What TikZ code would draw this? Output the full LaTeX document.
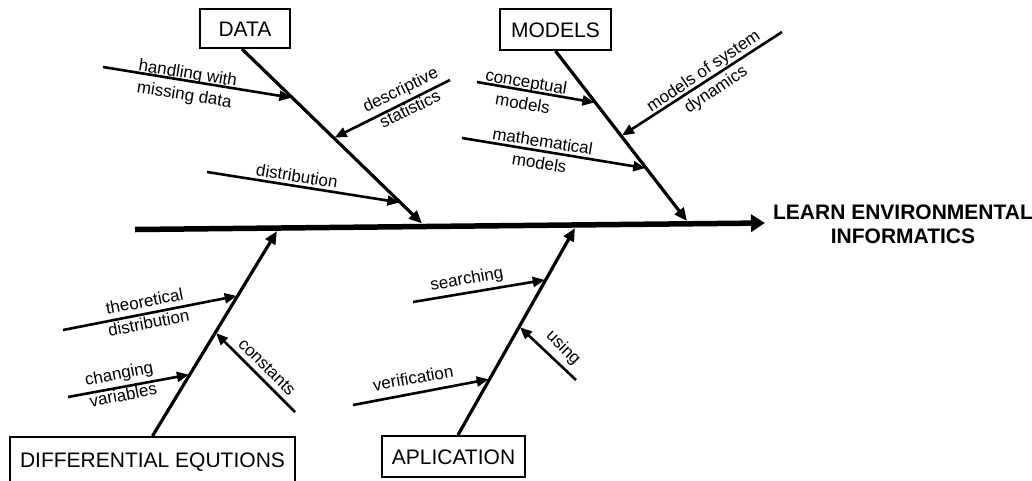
\documentclass[tikz,border=0pt]{standalone}
\usepackage{fontspec}
\setmainfont{Liberation Sans}
\usetikzlibrary{arrows.meta,calc}
\begin{document}
\begin{tikzpicture}[x=1pt,y=-1pt,
  box/.style={draw,line width=2pt,inner sep=0pt,font=\fontsize{21}{24}\selectfont,text height=15pt,text depth=0pt},
  lbl/.style={font=\fontsize{17}{22}\selectfont,align=center,inner sep=0pt},
  branch/.style={line width=3.2pt,-{Triangle[length=13pt,width=11pt]}},
  sub/.style={line width=2.6pt,-{Triangle[length=12pt,width=10pt]}},
  spine/.style={line width=5.5pt,-{Triangle[length=14pt,width=17pt]}}]
\useasboundingbox (0,0) rectangle (1032,480);
% boxes
\node[box,minimum width=90pt,minimum height=39pt] (data) at (245,28.5) {DATA};
\node[box,minimum width=111pt,minimum height=41pt] (models) at (555.5,29.5) {MODELS};
\node[box,minimum width=285pt,minimum height=45pt] (diff) at (152.5,459.5) {DIFFERENTIAL EQUTIONS};
\node[box,minimum width=143pt,minimum height=41pt] (app) at (453.5,456.5) {APLICATION};
\node[font=\bfseries\fontsize{21}{24}\selectfont,align=center,inner sep=0pt] (title) at (903,224) {LEARN ENVIRONMENTAL\\INFORMATICS};
% spine
\coordinate (sp0) at (135,229.5);
\coordinate (sp1) at (765,223);
\draw[spine] (sp0) -- (sp1);
% branch ends
\coordinate (dE) at (422,223.5);
\coordinate (mE) at (687,221);
\coordinate (fE) at (277,231);
\coordinate (aE) at (575,228);
\coordinate (dS) at ([xshift=-3pt]data.south);
\coordinate (mS) at (models.south);
\coordinate (fS) at (diff.north);
\coordinate (aS) at ([xshift=4.5pt]app.north);
\draw[branch] (dS) -- (dE);
\draw[branch] (mS) -- (mE);
\draw[branch] (fS) -- (fE);
\draw[branch] (aS) -- (aE);
% sub-branch free ends
\coordinate (h0) at (103,67);
\coordinate (ds0) at (450,80);
\coordinate (di0) at (207,172);
\coordinate (c0) at (477,82);
\coordinate (sy0) at (782,32);
\coordinate (ma0) at (462,138);
\coordinate (th0) at (63,330);
\coordinate (ch0) at (68,397);
\coordinate (co0) at (295,412);
\coordinate (se0) at (413,302);
\coordinate (us0) at (576,380);
\coordinate (ve0) at (353,405);
% sub-branch tips on branches
\coordinate (h1) at ($(dS)!0.28!(dE)$);
\coordinate (ds1) at ($(dS)!0.51!(dE)$);
\coordinate (di1) at ($(dS)!0.88!(dE)$);
\coordinate (c1) at ($(mS)!0.304!(mE)$);
\coordinate (sy1) at ($(mS)!0.5!(mE)$);
\coordinate (ma1) at ($(mS)!0.69!(mE)$);
\coordinate (th1) at ($(fS)!0.684!(fE)$);
\coordinate (ch1) at ($(fS)!0.30!(fE)$);
\coordinate (co1) at ($(fS)!0.505!(fE)$);
\coordinate (se1) at ($(aS)!0.75!(aE)$);
\coordinate (us1) at ($(aS)!0.524!(aE)$);
\coordinate (ve1) at ($(aS)!0.27!(aE)$);
\foreach \a in {h,ds,di,c,sy,ma,th,ch,co,se,us,ve}{
  \draw[sub,shorten >=1pt] (\a0) -- (\a1);
}
% labels
\node[lbl,rotate=-9] (lh) at (186,85) {handling with\\missing data};
\node[lbl,rotate=26] (lds) at (405,99) {descriptive\\statistics};
\node[lbl,rotate=-9] (ldi) at (297,176) {distribution};
\node[lbl,rotate=-9.5] (lc) at (524.5,92.5) {conceptual\\models};
\node[lbl,rotate=34] (lsy) at (710,81) {models of system\\dynamics};
\node[lbl,rotate=-9] (lma) at (541,152) {mathematical\\models};
\node[lbl,rotate=11] (lth) at (146.5,312) {theoretical\\distribution};
\node[lbl,rotate=11] (lch) at (121,384) {changing\\variables};
\node[lbl,rotate=-45] (lco) at (267,367) {constants};
\node[lbl,rotate=10] (lse) at (467,280) {searching};
\node[lbl,rotate=-45] (lus) at (563,348) {using};
\node[lbl,rotate=10] (lve) at (413,378) {verification};
\end{tikzpicture}
\end{document}
